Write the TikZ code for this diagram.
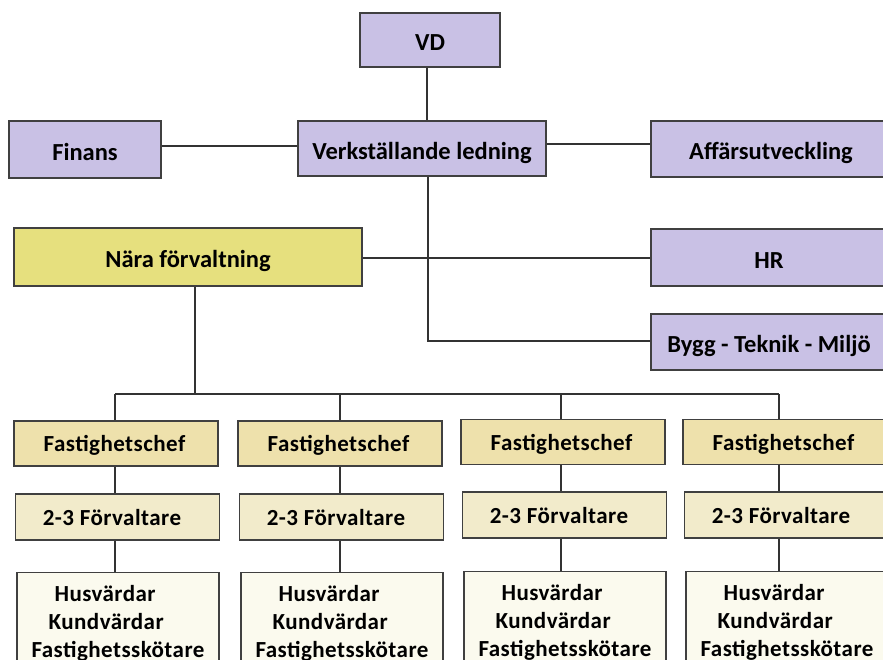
\documentclass[tikz,border=0pt]{standalone}
\usepackage{fontspec}
\setmainfont{Carlito}
\newfontfamily\lowfont[LetterSpace=2]{Carlito}
\begin{document}
\begin{tikzpicture}[x=1pt,y=-1pt,
  box/.style={draw=black!75,line width=1.3pt,inner sep=0pt,font=\fontsize{24.5}{26}\selectfont\bfseries,text height=22.5pt,text depth=0.7pt},
  top/.style={box,fill=purplefill},
  low/.style={box,font=\lowfont\fontsize{23}{28}\selectfont\bfseries,text height=18pt,text depth=1.5pt},
  staffbox/.style={box,font=\lowfont\fontsize{23}{28}\selectfont\bfseries,text height=,text depth=,fill=staff,minimum width=202pt,minimum height=102pt,anchor=north,align=left},
  conn/.style={draw=black!80,line width=1.1pt}]
\definecolor{purplefill}{HTML}{C9C1E5}
\definecolor{nara}{HTML}{E6E07E}
\definecolor{chef}{HTML}{EEE1AC}
\definecolor{forv}{HTML}{F2EBCB}
\definecolor{staff}{HTML}{FBFAEE}
\useasboundingbox (0,0) rectangle (883,660);
\clip (0,0) rectangle (883,660);
% top level
\node[top,minimum width=140pt,minimum height=54pt] (vd) at (430,40) {VD};
\node[top,minimum width=248pt,minimum height=55pt] (vl) at (422,148.5) {Verkställande ledning};
\node[top,minimum width=152pt,minimum height=57pt] (fin) at (85,149.5) {Finans};
\node[top,minimum width=236pt,minimum height=56pt] (aff) at (769,149) {\hspace*{4pt}Affärsutveckling};
\node[top,minimum width=236pt,minimum height=57pt] (hr) at (769,257.5) {HR};
\node[top,minimum width=236pt,minimum height=56pt] (bygg) at (769,342) {Bygg - Teknik - Miljö};
\node[box,fill=nara,minimum width=348pt,minimum height=58pt] (nara) at (188,257) {Nära förvaltning};
\coordinate (vlb) at (428,176);
\coordinate (vlc) at (428,341);
\draw[conn] (vd.south -| 427,0) -- (vl.north -| 427,0);
\draw[conn] (fin.east |- 0,146) -- (vl.west |- 0,146);
\draw[conn] (vl.east |- 0,144) -- (aff.west |- 0,144);
\draw[conn] (vl.south -| vlb) -- (vlc) -- (bygg.west |- vlc);
\draw[conn] (nara.east |- 0,258) -- (hr.west |- 0,258);
% bottom level
\coordinate (bus) at (195,394);
\coordinate (busL) at (115,394);
\coordinate (busR) at (779,394);
\draw[conn] (nara.south -| bus) -- (bus);
\draw[conn] (busL) -- (busR);
\foreach \i/\x/\cx/\fy/\sy/\ty in {1/115/116/443.5/517/572, 2/340/340/443.5/517/572, 3/561/563/442/515/571, 4/779/785/442/515/571}{
  \node[low,fill=chef,minimum width=204pt,minimum height=45pt] (chef\i) at (\cx,\fy) {Fastighetschef\hspace*{3pt}};
  \node[low,fill=forv,minimum width=204pt,minimum height=46pt] (forv\i) at (\cx+1.5,\sy) {2-3 Förvaltare\hspace*{11pt}};
  \node[staffbox] (st\i) at (\cx+2,\ty) {\hspace*{23pt}Husvärdar\\\hspace*{17pt}Kundvärdar\\Fastighetsskötare};
  \coordinate (drop\i) at (\x,394);
  \draw[conn] (drop\i) -- (chef\i.north -| drop\i);
  \draw[conn] (chef\i.south -| drop\i) -- (forv\i.north -| drop\i);
  \draw[conn] (forv\i.south -| drop\i) -- (st\i.north -| drop\i);
}
\end{tikzpicture}
\end{document}
